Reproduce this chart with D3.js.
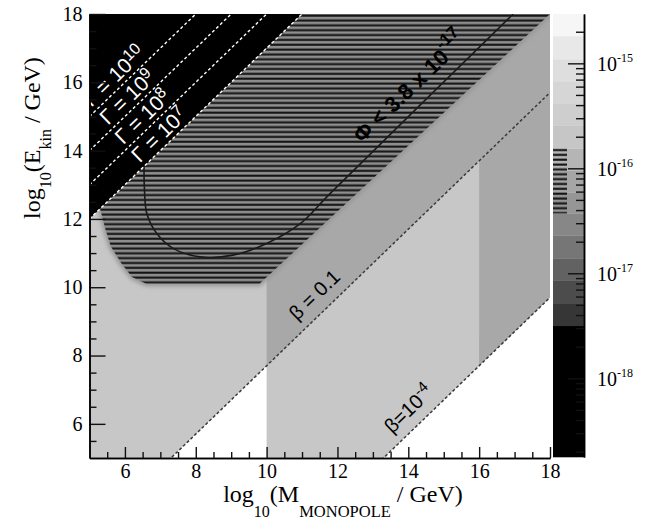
<!DOCTYPE html>
<html><head><meta charset="utf-8">
<script src="https://cdn.jsdelivr.net/npm/d3@7"></script>
<style>body{margin:0;background:#fff;} svg{display:block;}</style>
</head><body><svg id="chart" width="646" height="524"></svg>
<script>
// ---------------- data ----------------
const xDomain = [5, 18];
const yDomain = [5, 18];
const xMajorTicks = [6, 8, 10, 12, 14, 16, 18];
const xMinorTicks = [5.5, 6.5, 7, 7.5, 8.5, 9, 9.5, 10.5, 11, 11.5, 12.5, 13, 13.5, 14.5, 15, 15.5, 16.5, 17, 17.5];
const yMajorTicks = [6, 8, 10, 12, 14, 16, 18];
const yMinorTicks = [5.5, 6.5, 7, 7.5, 8.5, 9, 9.5, 10.5, 11, 11.5, 12.5, 13, 13.5, 14.5, 15, 15.5, 16.5, 17, 17.5];

// Lorentz-factor lines: log10(E) = log10(M) + exp
const gammaExps = [10, 9, 8, 7];
const gammaLabelM = [5.15, 5.62, 6.05, 6.52];
// velocity lines: log10(E) = log10(M) + offset
const betaOffsets = [-2.3, -8.3];
const betaLabelBase = ["\u03B2 = 0.1", "\u03B2=10"];
const betaLabelSup = ["", "-4"];
const betaLabelM = [11.07, 13.76];

// regions [log10 M, log10 E]
const blackRegion = [[5, 12], [5, 18], [11, 18]];
const whiteRegions = [
  [[7.3, 5], [10, 7.7], [10, 5]],
  [[13.3, 5], [18, 9.7], [18, 5]]
];
const mediumRegions = [
  [[10, 7.7], [10, 18], [18, 18], [18, 15.7]],
  [[16, 7.7], [16, 13.7], [18, 15.7], [18, 9.7]]
];
const hatchRegion = [[5.3, 12.3], [11, 18], [18, 18], [9.8, 10.1], [6.6, 10.1],
  [6.2, 10.3], [5.9, 10.7], [5.6, 11.2], [5.45, 11.7], [5.35, 12.1]];

// flux contour  Phi = 3.8e-17
const contourPts = [[6.54, 13.54], [6.55, 12.9], [6.62, 12.15], [6.9, 11.57], [7.37, 11.13],
  [8.12, 10.89], [9.05, 10.94], [10.0, 11.28], [10.95, 11.86], [11.79, 12.74], [16.96, 18]];
const contourOffset = 0.97;
const contourLabelM = 12.95;

// colour bar (log10 flux)
const cbBounds = [-18.75, -17.5, -17.29, -17.07, -16.86, -16.64, -16.43, -16.23, -16.02,
  -15.81, -15.59, -15.38, -15.17, -14.96, -14.74, -14.53];
const cbColors = ["#000000", "#363636", "#4c4c4c", "#626262", "#767676", "#878787", "#969696",
  "#a6a6a6", "#b5b5b5", "#c6c6c6", "#cecece", "#d6d6d6", "#dedede", "#e8e8e8", "#f6f6f6"];
const cbHatch = [-16.43, -15.81];
const cbMajorTicks = [-15, -16, -17, -18];
const cbLabels = ["-15", "-16", "-17", "-18"];

// ---------------- drawing ----------------
const SERIF = '"Liberation Serif"';
const SANS = '"Liberation Sans"';
const svg = d3.select("#chart");
const x = d3.scaleLinear(xDomain, [89.5, 550]);
const y = d3.scaleLinear(yDomain, [458, 14]);
const cbY = d3.scaleLinear([cbBounds[0], cbBounds[cbBounds.length - 1]], [457, 14]);
const angle = Math.atan2(y(1) - y(0), x(1) - x(0)) * 180 / Math.PI;

const defs = svg.append("defs");
defs.append("clipPath").attr("id", "plotClip").append("rect")
  .attr("x", x(5)).attr("y", y(18)).attr("width", x(18) - x(5)).attr("height", y(5) - y(18));
const pat = defs.append("pattern").attr("id", "stripes").attr("patternUnits", "userSpaceOnUse")
  .attr("x", 0).attr("y", y(18)).attr("width", 10).attr("height", 4.85);
pat.append("rect").attr("width", 10).attr("height", 4.85).attr("fill", "#8e8e8e");
pat.append("rect").attr("y", 0.6).attr("width", 10).attr("height", 2.1).attr("fill", "#141414");
const pat2 = defs.append("pattern").attr("id", "stripesOnly").attr("patternUnits", "userSpaceOnUse")
  .attr("x", 0).attr("y", cbY(cbHatch[1])).attr("width", 10).attr("height", 4.85);
pat2.append("rect").attr("y", 0.6).attr("width", 10).attr("height", 2.1).attr("fill", "#141414");
defs.append("filter").attr("id", "blur").attr("x", "-10%").attr("y", "-10%").attr("width", "120%").attr("height", "120%")
  .append("feGaussianBlur").attr("stdDeviation", 2);
defs.append("clipPath").attr("id", "hatchClip").append("path")
  .attr("d", d3.line().x(d => x(d[0])).y(d => y(d[1]))(hatchRegion) + "Z");

const poly = d3.line().x(d => x(d[0])).y(d => y(d[1]));
const plot = svg.append("g").attr("clip-path", "url(#plotClip)");

plot.append("rect").attr("x", x(5)).attr("y", y(18)).attr("width", x(18) - x(5)).attr("height", y(5) - y(18))
  .attr("fill", "#c7c7c7");
plot.selectAll("path.white").data(whiteRegions).join("path").attr("class", "white")
  .attr("d", d => poly(d) + "Z").attr("fill", "#ffffff");
plot.selectAll("path.medium").data(mediumRegions).join("path").attr("class", "medium")
  .attr("d", d => poly(d) + "Z").attr("fill", "#a8a8a8");

plot.append("path").attr("d", poly(hatchRegion) + "Z").attr("fill", "#979797")
  .attr("stroke", "#979797").attr("stroke-width", 5).attr("filter", "url(#blur)");
plot.append("rect").attr("clip-path", "url(#hatchClip)")
  .attr("x", x(5)).attr("y", y(18)).attr("width", x(18) - x(5)).attr("height", y(5) - y(18))
  .attr("fill", "url(#stripes)");
plot.append("path").attr("d", poly(blackRegion) + "Z").attr("fill", "#000");

plot.append("path").attr("d", d3.line().x(d => x(d[0])).y(d => y(d[1])).curve(d3.curveCatmullRom)(contourPts))
  .attr("fill", "none").attr("stroke", "#1a1a1a").attr("stroke-width", 1.6);

plot.selectAll("line.gamma").data(gammaExps).join("line").attr("class", "gamma")
  .attr("x1", x(5)).attr("y1", g => y(5 + g)).attr("x2", x(18)).attr("y2", g => y(18 + g))
  .attr("stroke", "#fff").attr("stroke-width", 1.4).attr("stroke-dasharray", "3,2.5");
plot.selectAll("line.beta").data(betaOffsets).join("line").attr("class", "beta")
  .attr("x1", x(5)).attr("y1", o => y(5 + o)).attr("x2", x(18)).attr("y2", o => y(18 + o))
  .attr("stroke", "#3a3a3a").attr("stroke-width", 1.5).attr("stroke-dasharray", "3,2.2");

function rotLabel(px, py, dy, base, sup, fill, size, supSize, rise, weight) {
  const g = svg.append("g").attr("transform", `translate(${px},${py}) rotate(${angle})`);
  const t = g.append("text").attr("x", 0).attr("y", dy).attr("fill", fill)
    .style("font-family", SANS).style("font-size", size + "px").style("font-weight", weight || "normal");
  t.append("tspan").text(base);
  if (sup) t.append("tspan").attr("dy", -rise).style("font-size", supSize + "px").text(sup);
}
gammaExps.forEach((g, i) => {
  const m = gammaLabelM[i];
  rotLabel(x(m), y(m + g), -5, "\u0393 = 10", String(g), "#fff", 21, 16, 7);
});
betaOffsets.forEach((o, i) => {
  const m = betaLabelM[i];
  rotLabel(x(m), y(m + o), -11, betaLabelBase[i], betaLabelSup[i], "#000", 20, 15, 8);
});
rotLabel(x(contourLabelM), y(contourLabelM + contourOffset), -13, "\u03A6 < 3.8 x 10", "-17", "#000", 22, 17, 12, "bold");

function styleAxis(g, size) {
  g.attr("font-family", null).attr("font-size", null);
  g.selectAll("path.domain").attr("stroke", "#000").attr("stroke-width", 1.5);
  g.selectAll(".tick line").attr("stroke", "#111").attr("stroke-width", 1.4);
  g.selectAll("text").style("font-family", SERIF).style("font-size", size + "px").attr("fill", "#000");
}
const yAxis = svg.append("g").attr("transform", `translate(${x(5)},0)`)
  .call(d3.axisLeft(y).tickValues(yMajorTicks).tickSize(-16).tickSizeOuter(0).tickPadding(7).tickFormat(d3.format("d")));
styleAxis(yAxis, 20);
const yAxisMinor = svg.append("g").attr("transform", `translate(${x(5)},0)`)
  .call(d3.axisLeft(y).tickValues(yMinorTicks).tickSize(-7).tickSizeOuter(0).tickFormat(""));
styleAxis(yAxisMinor, 20);
const xAxis = svg.append("g").attr("transform", `translate(0,${y(5)})`)
  .call(d3.axisBottom(x).tickValues(xMajorTicks).tickSize(-11).tickSizeOuter(0).tickPadding(6).tickFormat(d3.format("d")));
styleAxis(xAxis, 20);
const xAxisMinor = svg.append("g").attr("transform", `translate(0,${y(5)})`)
  .call(d3.axisBottom(x).tickValues(xMinorTicks).tickSize(-6).tickSizeOuter(0).tickFormat(""));
styleAxis(xAxisMinor, 20);

const xt = svg.append("text").attr("x", 343).attr("y", 502).attr("text-anchor", "middle")
  .style("font-family", SERIF).style("font-size", "24px").attr("fill", "#000");
xt.append("tspan").text("log");
xt.append("tspan").attr("dy", 15).style("font-size", "16px").text("10");
xt.append("tspan").attr("dy", -15).text("(M");
xt.append("tspan").attr("dy", 15).style("font-size", "16.5px").text("MONOPOLE");
xt.append("tspan").attr("dy", -15).text(" / GeV)");

const yt = svg.append("text").attr("transform", "translate(40,138) rotate(-90)").attr("text-anchor", "middle")
  .style("font-family", SERIF).style("font-size", "24px").attr("fill", "#000");
yt.append("tspan").text("log");
yt.append("tspan").attr("dy", 11).style("font-size", "16px").text("10");
yt.append("tspan").attr("dy", -11).text("(E");
yt.append("tspan").attr("dy", 11).style("font-size", "16px").text("kin");
yt.append("tspan").attr("dy", -11).text("  / GeV)");

const cbX0 = 553, cbX1 = 584;
const bands = cbColors.map((c, i) => ({ lo: cbBounds[i], hi: cbBounds[i + 1], c }));
svg.selectAll("rect.cb").data(bands).join("rect").attr("class", "cb")
  .attr("x", cbX0).attr("width", cbX1 - cbX0)
  .attr("y", d => cbY(d.hi)).attr("height", d => cbY(d.lo) - cbY(d.hi) + 0.3)
  .attr("fill", d => d.c);
svg.append("rect").attr("x", cbX0).attr("width", 14)
  .attr("y", cbY(cbHatch[1])).attr("height", cbY(cbHatch[0]) - cbY(cbHatch[1]))
  .attr("fill", "url(#stripesOnly)");
const cbMinor = [];
[-15, -16, -17, -18, -19].forEach(d => [2, 3, 4, 5, 6, 7, 8, 9].forEach(k => {
  const v = d + Math.log10(k);
  if (v > cbBounds[0] && v < cbBounds[cbBounds.length - 1]) cbMinor.push(v);
}));
const cbAxis = svg.append("g").attr("transform", `translate(${cbX1},0)`)
  .call(d3.axisRight(cbY).tickValues(cbMajorTicks).tickSize(-16).tickSizeOuter(0).tickFormat(""));
styleAxis(cbAxis, 20);
const cbAxisMinor = svg.append("g").attr("transform", `translate(${cbX1},0)`)
  .call(d3.axisRight(cbY).tickValues(cbMinor).tickSize(-8).tickSizeOuter(0).tickFormat(""));
styleAxis(cbAxisMinor, 20);
cbMajorTicks.forEach((v, i) => {
  const t = svg.append("text").attr("x", 597).attr("y", cbY(v) + 8)
    .style("font-family", SERIF).style("font-size", "20px").attr("fill", "#000");
  t.append("tspan").text("10");
  t.append("tspan").attr("dy", -9).style("font-size", "12px").text(cbLabels[i]);
});
</script>
</body></html>
